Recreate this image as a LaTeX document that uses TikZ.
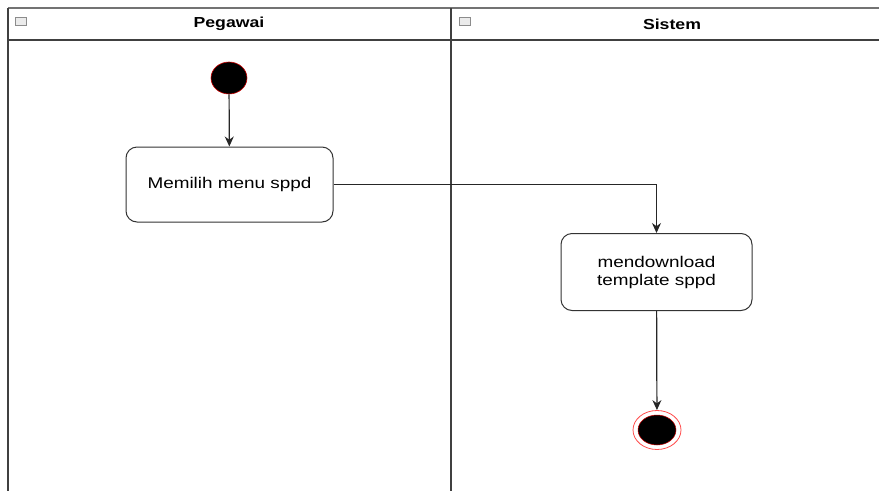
\documentclass[tikz,border=0pt]{standalone}
\usepackage{fontspec}
\setmainfont{Liberation Sans}[FakeStretch=1.22]
\usetikzlibrary{arrows.meta,shapes.geometric}
\begin{document}
\begin{tikzpicture}[x=1pt,y=-1pt,
    lane/.style={draw=black!75,line width=1.4pt},
    action/.style={draw=black!80,line width=1pt,rounded corners=11pt,fill=white,
      align=center,font=\fontsize{15.5}{18}\selectfont,inner sep=0pt},
    startnode/.style={ellipse,draw=red!80!black,fill=black,line width=0.6pt,
      minimum width=36pt,minimum height=32pt,inner sep=0pt},
    endnode/.style={ellipse,draw=red!70,line width=0.8pt,fill=white,
      minimum width=48pt,minimum height=39pt,inner sep=0pt},
    endcore/.style={ellipse,draw=red!80!black,fill=black,line width=0.5pt,
      minimum width=38pt,minimum height=30pt,inner sep=0pt},
    flow/.style={-{Stealth[length=10pt,width=9pt]},line width=1.2pt,black!85},
    lanetitle/.style={font=\fontsize{14.5}{17}\selectfont\bfseries},
    icon/.style={draw=black!45,fill=black!8,line width=0.5pt,minimum width=11pt,
      minimum height=8pt,inner sep=0pt}]
  \useasboundingbox (0,0) rectangle (879,491);
  % swimlanes
  \draw[lane,draw=black!55,line width=2pt] (8,8) -- (879,8);
  \draw[lane] (8,40) -- (879,40);
  \draw[lane] (8,8) -- (8,491);
  \draw[lane] (451,8) -- (451,491);
  \node[icon] (iconA) at (21,21) {};
  \node[icon] (iconB) at (465,21) {};
  \node[lanetitle] (pegawai) at (229,24) {Pegawai};
  \node[lanetitle] (sistem) at (672,24) {Sistem};
  % activities
  \node[startnode] (start) at (229,78) {};
  \node[action,minimum width=207pt,minimum height=75pt] (menu) at (229.5,184.5) {Memilih menu sppd};
  \node[action,minimum width=191pt,minimum height=77pt] (download) at (656.5,272) {mendownload\\template sppd};
  \node[endnode] (end) at (657,430) {};
  \node[endcore] (endc) at (657,430) {};
  \begin{scope}[flow]
    \draw (start) -- (menu);
    \draw (menu.east) -| (download.north);
    \draw (download) -- (end);
  \end{scope}
\end{tikzpicture}
\end{document}
